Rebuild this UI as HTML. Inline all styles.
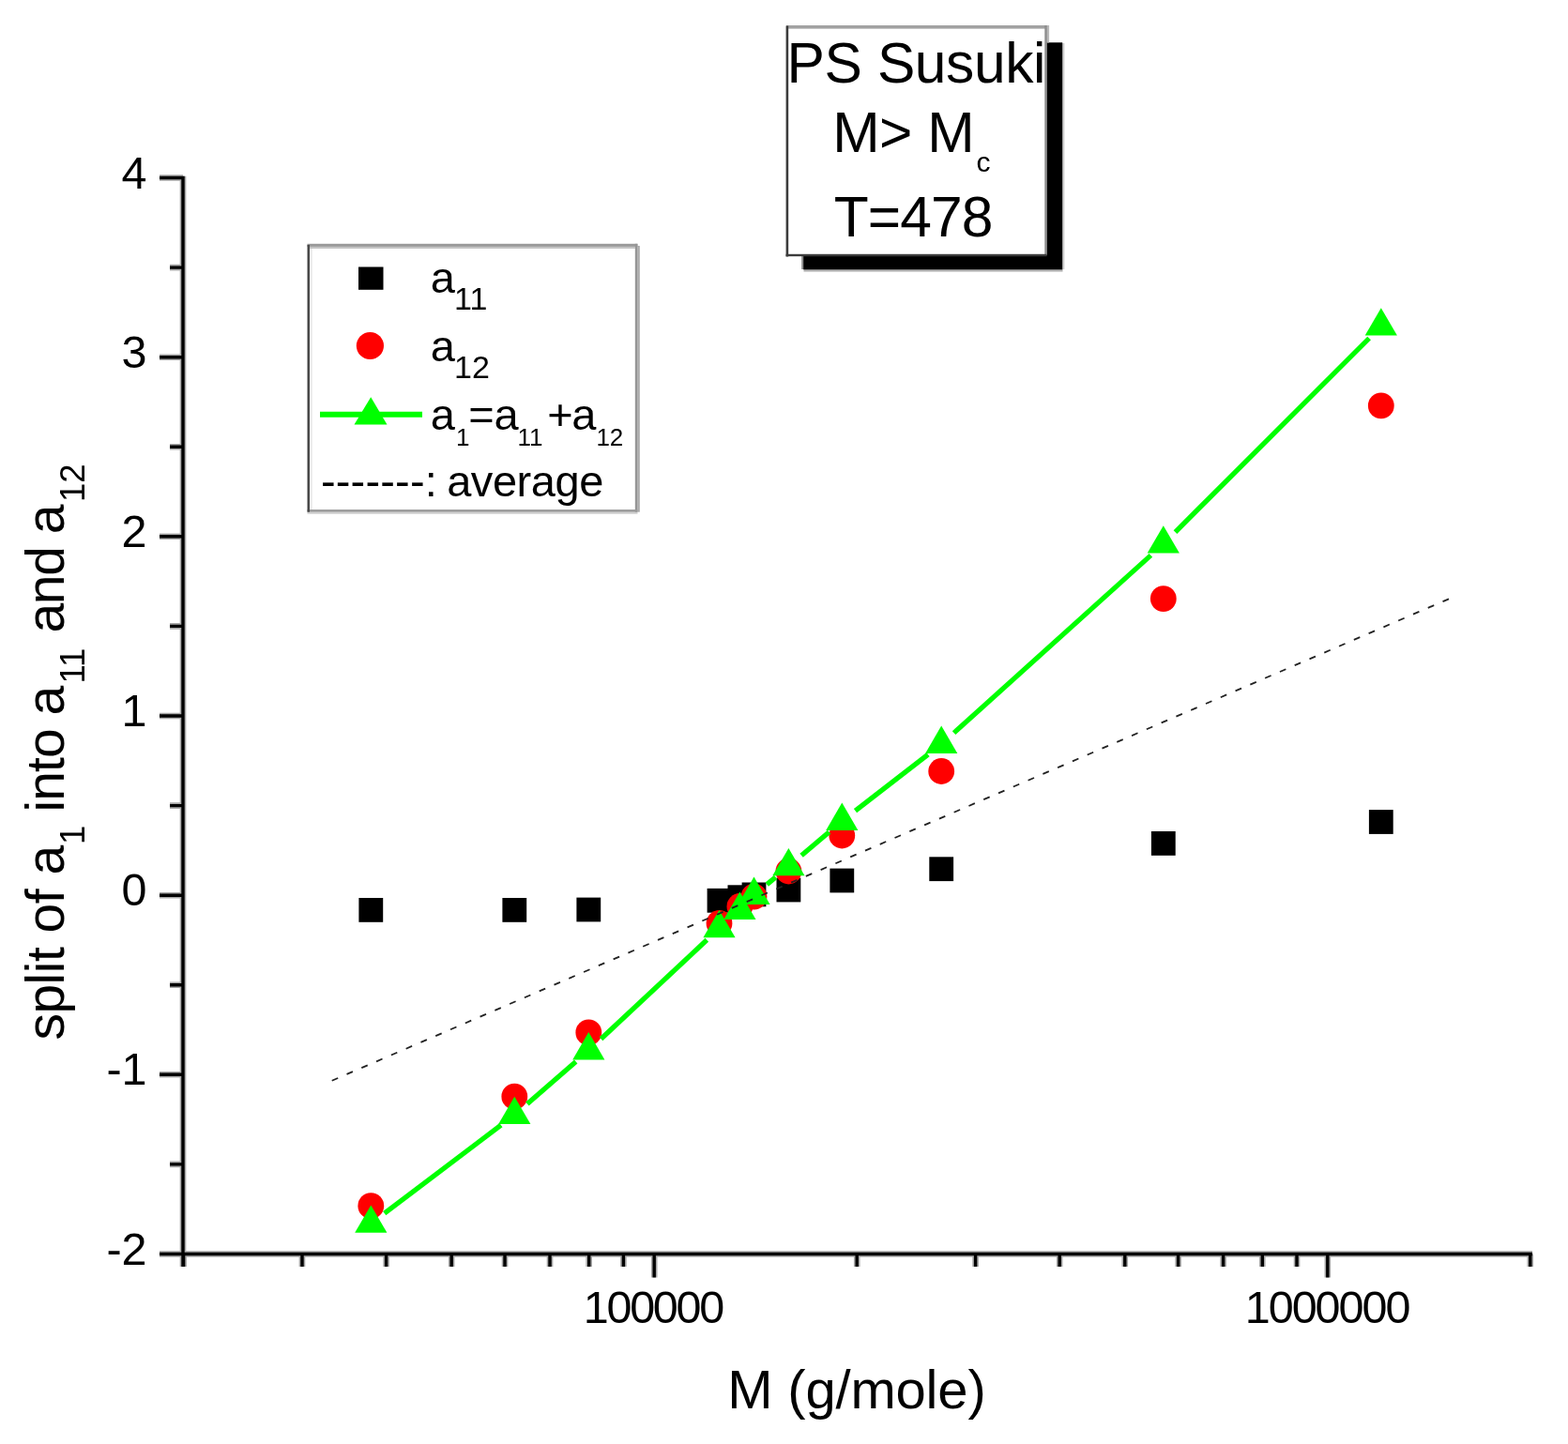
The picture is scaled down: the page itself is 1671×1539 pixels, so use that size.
<!DOCTYPE html><html><head><meta charset="utf-8"><style>html,body{margin:0;padding:0;background:#fff;}svg{display:block}text{font-family:'Liberation Sans', Arial, sans-serif;fill:#000}</style></head><body>
<svg width="1671" height="1539" viewBox="0 0 1671 1539">
<rect width="1671" height="1539" fill="#fff"/>
<rect x="856.5" y="287" width="276" height="2.6" fill="#b4b4b4"/>
<rect x="1132" y="46" width="2.4" height="241" fill="#cfcfcf"/>
<rect x="854.2" y="273" width="2.4" height="14" fill="#8c8c8c"/>
<rect x="856.2" y="45.3" width="276" height="242" fill="#000"/>
<rect x="838" y="27.5" width="277" height="245" fill="#fff"/>
<rect x="838" y="27" width="277" height="3.6" fill="#a2a2a2"/>
<rect x="1115.9" y="27" width="2.2" height="18.5" fill="#b8b8b8"/>
<rect x="1113.3" y="27" width="2.6" height="245" fill="#8e8e8e"/>
<rect x="837.6" y="27.5" width="2.6" height="246" fill="#3c3c3c"/>
<rect x="837.6" y="270.8" width="278" height="2.4" fill="#3c3c3c"/>
<text x="838.6" y="88.4" font-size="60.5" letter-spacing="-0.41">PS Susuki</text>
<text x="887.2" y="161.6" font-size="60.5" letter-spacing="-0.47">M&gt; M</text>
<text x="1040.5" y="182.8" font-size="30">c</text>
<text x="888.8" y="252.3" font-size="60.5" letter-spacing="-0.91">T=478</text>
<path d="M195.0,187.7L195.0,1350.0M193.2,1336.5L1633.0,1336.5M170.0,1336.5L195.0,1336.5M170.0,1145.3L195.0,1145.3M170.0,954.2L195.0,954.2M170.0,763.0L195.0,763.0M170.0,571.8L195.0,571.8M170.0,380.7L195.0,380.7M170.0,189.5L195.0,189.5M181.0,1240.9L195.0,1240.9M181.0,1049.8L195.0,1049.8M181.0,858.6L195.0,858.6M181.0,667.4L195.0,667.4M181.0,476.2L195.0,476.2M181.0,285.1L195.0,285.1M195.6,1336.5L195.6,1350.0M322.0,1336.5L322.0,1350.0M411.6,1336.5L411.6,1350.0M481.2,1336.5L481.2,1350.0M538.0,1336.5L538.0,1350.0M586.0,1336.5L586.0,1350.0M627.7,1336.5L627.7,1350.0M664.4,1336.5L664.4,1350.0M697.2,1336.5L697.2,1361.5M913.2,1336.5L913.2,1350.0M1039.6,1336.5L1039.6,1350.0M1129.2,1336.5L1129.2,1350.0M1198.8,1336.5L1198.8,1350.0M1255.6,1336.5L1255.6,1350.0M1303.6,1336.5L1303.6,1350.0M1345.3,1336.5L1345.3,1350.0M1382.0,1336.5L1382.0,1350.0M1414.8,1336.5L1414.8,1361.5M1630.8,1336.5L1630.8,1350.0" stroke="#a8a8a8" stroke-width="6.6" fill="none"/>
<path d="M195.0,187.7L195.0,1350.0M193.2,1336.5L1633.0,1336.5M170.0,1336.5L195.0,1336.5M170.0,1145.3L195.0,1145.3M170.0,954.2L195.0,954.2M170.0,763.0L195.0,763.0M170.0,571.8L195.0,571.8M170.0,380.7L195.0,380.7M170.0,189.5L195.0,189.5M181.0,1240.9L195.0,1240.9M181.0,1049.8L195.0,1049.8M181.0,858.6L195.0,858.6M181.0,667.4L195.0,667.4M181.0,476.2L195.0,476.2M181.0,285.1L195.0,285.1M195.6,1336.5L195.6,1350.0M322.0,1336.5L322.0,1350.0M411.6,1336.5L411.6,1350.0M481.2,1336.5L481.2,1350.0M538.0,1336.5L538.0,1350.0M586.0,1336.5L586.0,1350.0M627.7,1336.5L627.7,1350.0M664.4,1336.5L664.4,1350.0M697.2,1336.5L697.2,1361.5M913.2,1336.5L913.2,1350.0M1039.6,1336.5L1039.6,1350.0M1129.2,1336.5L1129.2,1350.0M1198.8,1336.5L1198.8,1350.0M1255.6,1336.5L1255.6,1350.0M1303.6,1336.5L1303.6,1350.0M1345.3,1336.5L1345.3,1350.0M1382.0,1336.5L1382.0,1350.0M1414.8,1336.5L1414.8,1361.5M1630.8,1336.5L1630.8,1350.0" stroke="#000" stroke-width="3.4" fill="none"/>
<text x="156.5" y="1347.5" font-size="48.5" text-anchor="end">-2</text>
<text x="156.5" y="1156.3" font-size="48.5" text-anchor="end">-1</text>
<text x="156.5" y="965.2" font-size="48.5" text-anchor="end">0</text>
<text x="156.5" y="774.0" font-size="48.5" text-anchor="end">1</text>
<text x="156.5" y="582.8" font-size="48.5" text-anchor="end">2</text>
<text x="156.5" y="391.7" font-size="48.5" text-anchor="end">3</text>
<text x="156.5" y="200.5" font-size="48.5" text-anchor="end">4</text>
<text x="621.8" y="1409.6" font-size="48.5" letter-spacing="-2.29">100000</text>
<text x="1326.8" y="1409.6" font-size="48.5" letter-spacing="-2.04">1000000</text>
<text x="775.2" y="1501.4" font-size="58" letter-spacing="-0.18">M (g/mole)</text>
<text transform="translate(68.0,1108.6) rotate(-90)" font-size="57" letter-spacing="-0.50">split of a</text>
<text transform="translate(89.8,900.0) rotate(-90)" font-size="36.5">1</text>
<text transform="translate(68.0,865.4) rotate(-90)" font-size="57" letter-spacing="-0.97">into a</text>
<text transform="translate(89.8,728.5) rotate(-90)" font-size="36.5">11</text>
<text transform="translate(68.0,674.4) rotate(-90)" font-size="57" letter-spacing="-1.43">and a</text>
<text transform="translate(89.8,535.0) rotate(-90)" font-size="36.5">12</text>
<rect x="382.4" y="957.0" width="25.8" height="25.8" fill="#000"/>
<rect x="535.4" y="957.0" width="25.8" height="25.8" fill="#000"/>
<rect x="614.4" y="956.6" width="25.8" height="25.8" fill="#000"/>
<rect x="753.6" y="946.9" width="25.8" height="25.8" fill="#000"/>
<rect x="775.5" y="943.3" width="25.8" height="25.8" fill="#000"/>
<rect x="790.6" y="940.5" width="25.8" height="25.8" fill="#000"/>
<rect x="827.5" y="935.6" width="25.8" height="25.8" fill="#000"/>
<rect x="884.4" y="925.6" width="25.8" height="25.8" fill="#000"/>
<rect x="990.3" y="913.3" width="25.8" height="25.8" fill="#000"/>
<rect x="1226.9" y="886.0" width="25.8" height="25.8" fill="#000"/>
<rect x="1458.9" y="863.1" width="25.8" height="25.8" fill="#000"/>
<circle cx="395.3" cy="1285.2" r="13.9" fill="#f00"/>
<circle cx="548.3" cy="1168.7" r="13.9" fill="#f00"/>
<circle cx="627.3" cy="1100.4" r="13.9" fill="#f00"/>
<circle cx="766.5" cy="984.0" r="13.9" fill="#f00"/>
<circle cx="788.4" cy="966.0" r="13.9" fill="#f00"/>
<circle cx="803.5" cy="955.7" r="13.9" fill="#f00"/>
<circle cx="840.4" cy="928.5" r="13.9" fill="#f00"/>
<circle cx="897.3" cy="890.5" r="13.9" fill="#f00"/>
<circle cx="1003.2" cy="822.0" r="13.9" fill="#f00"/>
<circle cx="1239.8" cy="638.1" r="13.9" fill="#f00"/>
<circle cx="1471.8" cy="432.4" r="13.9" fill="#f00"/>
<path d="M409.7,1293.2L533.9,1199.1M561.9,1176.4L613.7,1131.4M640.5,1107.3L753.3,1001.8M817.3,942.6L826.6,934.9M854.1,911.8L883.6,886.8M911.5,864.1L989.0,804.2M1016.6,781.1L1226.4,591.9M1252.5,567.1L1459.1,360.5" stroke="#00ff00" stroke-width="5.3" fill="none"/>
<polygon points="395.3,1284.5 378.2,1313.8 412.4,1313.8" fill="#00ff00"/>
<polygon points="548.3,1168.7 531.2,1198.0 565.4,1198.0" fill="#00ff00"/>
<polygon points="627.3,1100.1 610.2,1129.4 644.4,1129.4" fill="#00ff00"/>
<polygon points="766.5,970.0 749.4,999.3 783.6,999.3" fill="#00ff00"/>
<polygon points="788.4,950.6 771.3,979.9 805.5,979.9" fill="#00ff00"/>
<polygon points="803.5,934.6 786.4,963.9 820.6,963.9" fill="#00ff00"/>
<polygon points="840.4,903.9 823.3,933.2 857.5,933.2" fill="#00ff00"/>
<polygon points="897.3,855.6 880.2,884.9 914.4,884.9" fill="#00ff00"/>
<polygon points="1003.2,773.6 986.1,802.9 1020.3,802.9" fill="#00ff00"/>
<polygon points="1239.8,560.3 1222.7,589.6 1256.9,589.6" fill="#00ff00"/>
<polygon points="1471.8,328.2 1454.7,357.5 1488.9,357.5" fill="#00ff00"/>
<line x1="352" y1="1152.5" x2="1547" y2="637" stroke="#222" stroke-width="1.8" stroke-dasharray="7 10.19" stroke-dashoffset="15.29"/>
<rect x="327.5" y="259.8" width="354.3" height="288" fill="#fff"/>
<rect x="330" y="262.9" width="346.8" height="2.1" fill="#c4c4c4"/>
<rect x="330" y="265" width="2.8" height="278.1" fill="#ececec"/>
<rect x="679.4" y="262" width="2.4" height="283.7" fill="#ababab"/>
<rect x="327.5" y="545.7" width="352" height="2.1" fill="#d0d0d0"/>
<rect x="327.5" y="259.8" width="351.9" height="3.1" fill="#9a9a9a"/>
<rect x="676.8" y="259.8" width="2.6" height="285.9" fill="#959595"/>
<rect x="327.5" y="543.1" width="351.9" height="2.6" fill="#9a9a9a"/>
<rect x="327.5" y="261" width="2.5" height="284.7" fill="#484848"/>
<rect x="382" y="284.5" width="26.5" height="24.3" fill="#000"/>
<text x="458.8" y="312.3" font-size="47">a</text>
<text x="484.1" y="330.3" font-size="34">11</text>
<circle cx="394.4" cy="368.5" r="14.6" fill="#f00"/>
<text x="458.8" y="384.7" font-size="47">a</text>
<text x="484.1" y="402.7" font-size="34">12</text>
<line x1="341" y1="441.8" x2="450" y2="441.8" stroke="#00ff00" stroke-width="6"/>
<polygon points="395.2,423.2 377.5,452.6 412.5,452.6" fill="#00ff00"/>
<text x="458.8" y="457.5" font-size="47">a</text>
<text x="486.0" y="475.0" font-size="26">1</text>
<text x="499.3" y="457.5" font-size="47">=</text>
<text x="526.4" y="457.5" font-size="47">a</text>
<text x="551.4" y="475.0" font-size="26">11</text>
<text x="583.3" y="457.5" font-size="47">+</text>
<text x="609.2" y="457.5" font-size="47">a</text>
<text x="635.4" y="475.0" font-size="26">12</text>
<text x="341.9" y="528.7" font-size="47" letter-spacing="0.18">-------:</text>
<text x="476.2" y="528.7" font-size="47" letter-spacing="-0.46">average</text>
</svg></body></html>
